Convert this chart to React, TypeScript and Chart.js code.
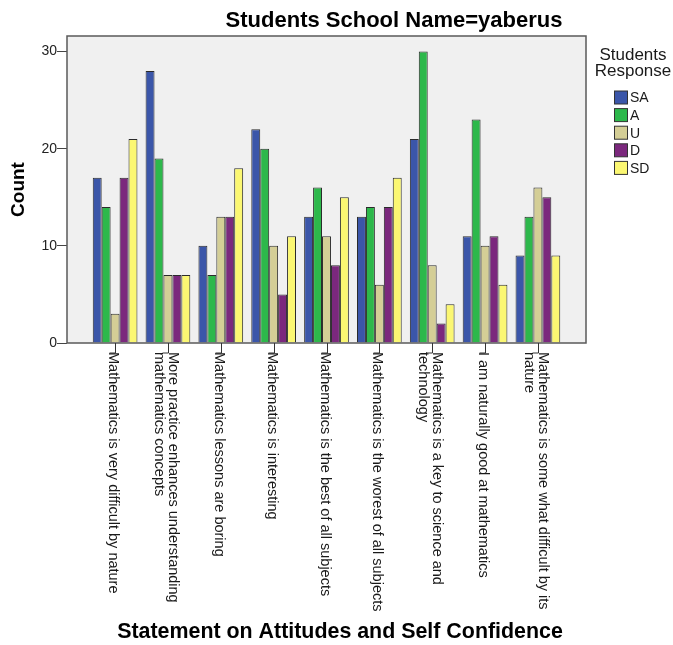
import React, { useEffect, useRef } from "react";
import { Chart, registerables } from "chart.js";

Chart.register(...registerables);

// Attitude statements (multi-line labels are split where the axis wraps them)
const statements: string[][] = [
  ["Mathematics is very difficult by nature"],
  ["More practice enhances understanding", "mathematics concepts"],
  ["Mathematics lessons are boring"],
  ["Mathematics is interesting"],
  ["Mathematics is the best of all subjects"],
  ["Mathematics is the worest of all subjects"],
  ["Mathematics is a key to science and", "technology"],
  ["I am naturally good at mathematics"],
  ["Mathematics is some what difficult by its", "nature"],
];

const responses = ["SA", "A", "U", "D", "SD"];

const saCounts = [17, 28, 10, 22, 13, 13, 21, 11, 9];
const aCounts = [14, 19, 7, 20, 16, 14, 30, 23, 13];
const uCounts = [3, 7, 13, 10, 11, 6, 8, 10, 16];
const dCounts = [17, 7, 13, 5, 8, 14, 2, 11, 15];
const sdCounts = [21, 7, 18, 11, 15, 17, 4, 6, 9];

const responseColors = ["#3b56a9", "#2db84b", "#d4ce96", "#7b287d", "#fbf772"];

const yTicks = [0, 10, 20, 30];

const chartTitle = "Students School Name=yaberus";
const xTitle = "Statement on Attitudes and Self Confidence";
const yTitle = "Count";
const legendTitle = ["Students", "Response"];

const FONT = "'Liberation Sans', Arial, sans-serif";

const decorations = {
  id: "decorations",
  beforeDraw(chart: any) {
    const { ctx, chartArea: a } = chart;
    ctx.save();
    ctx.fillStyle = "#f0f0f0";
    ctx.fillRect(a.left, a.top, a.right - a.left, a.bottom - a.top);
    ctx.restore();
  },
  afterDatasetsDraw(chart: any) {
    const { ctx, chartArea: a } = chart;
    ctx.save();
    ctx.strokeStyle = "#5a5a5a";
    ctx.lineWidth = 1.5;
    ctx.strokeRect(a.left, a.top, a.right - a.left, a.bottom - a.top);
    ctx.restore();
  },
  afterDraw(chart: any) {
    const { ctx, chartArea: a } = chart;
    const xs = chart.scales.x;
    ctx.save();

    // category ticks and rotated statement labels
    ctx.strokeStyle = "#333";
    ctx.lineWidth = 1;
    ctx.fillStyle = "#1a1a1a";
    ctx.font = `14.5px ${FONT}`;
    const lh = 14;
    statements.forEach((lines, i) => {
      const x = Math.round(xs.getPixelForValue(i)) + 0.5;
      ctx.beginPath();
      ctx.moveTo(x, a.bottom);
      ctx.lineTo(x, a.bottom + 10);
      ctx.lineTo(x - 6, a.bottom + 10);
      ctx.stroke();
      ctx.save();
      ctx.translate(x - 3, a.bottom + 9);
      ctx.rotate(Math.PI / 2);
      ctx.textAlign = "left";
      ctx.textBaseline = "middle";
      lines.forEach((line, j) => {
        const off = (j - (lines.length - 1) / 2) * lh;
        ctx.fillText(line, 0, off);
      });
      ctx.restore();
    });

    // titles
    ctx.fillStyle = "#000";
    ctx.textAlign = "center";
    ctx.textBaseline = "middle";
    ctx.font = `bold 22px ${FONT}`;
    ctx.fillText(chartTitle, 394, 21);
    ctx.font = `bold 21.4px ${FONT}`;
    ctx.fillText(xTitle, 340, 632);

    ctx.save();
    ctx.translate(19, (a.top + a.bottom) / 2);
    ctx.rotate(-Math.PI / 2);
    ctx.font = `bold 19px ${FONT}`;
    ctx.fillText(yTitle, 0, 0);
    ctx.restore();

    // legend
    ctx.fillStyle = "#1a1a1a";
    ctx.font = `17px ${FONT}`;
    ctx.fillText(legendTitle[0], 633, 55);
    ctx.fillText(legendTitle[1], 633, 71);
    ctx.textAlign = "left";
    ctx.font = `14px ${FONT}`;
    chart.data.datasets.forEach((ds: any, i: number) => {
      const cy = 97.5 + i * 17.6;
      ctx.fillStyle = ds.backgroundColor;
      ctx.fillRect(614.5, cy - 6.5, 13, 13);
      ctx.strokeStyle = "#333";
      ctx.lineWidth = 1;
      ctx.strokeRect(614.5, cy - 6.5, 13, 13);
      ctx.fillStyle = "#1a1a1a";
      ctx.fillText(ds.label, 630, cy + 1);
    });

    ctx.restore();
  },
};

export default function App() {
  const canvasRef = useRef<HTMLCanvasElement | null>(null);

  useEffect(() => {
    document.body.style.margin = "0";
    const canvas = canvasRef.current;
    if (!canvas) return;

    const seriesValues = [saCounts, aCounts, uCounts, dCounts, sdCounts];
    const chart = new Chart(canvas, {
      type: "bar",
      data: {
        datasets: responses.map((label, si) => ({
          label,
          data: seriesValues[si].map((v, i) => ({ x: i, y: v })),
          backgroundColor: responseColors[si],
          borderColor: "#2b2b2b",
          borderWidth: 1,
          categoryPercentage: 0.846,
          barPercentage: 1,
        })),
      },
      options: {
        responsive: false,
        animation: false,
        devicePixelRatio: 1,
        layout: { padding: { left: 0, top: 36, right: 87, bottom: 302 } },
        plugins: {
          legend: { display: false },
          title: { display: false },
          tooltip: { enabled: false },
        },
        scales: {
          x: {
            type: "linear",
            display: false,
            offset: false,
            min: -0.91,
            max: 8.91,
            afterBuildTicks: (scale: any) => {
              scale.ticks = statements.map((_, i) => ({ value: i }));
            },
          },
          y: {
            min: 0,
            max: 31.6,
            afterBuildTicks: (scale: any) => {
              scale.ticks = yTicks.map((v) => ({ value: v }));
            },
            afterFit: (scale: any) => {
              scale.width = 67;
            },
            ticks: {
              padding: 0,
              color: "#222",
              font: { family: FONT, size: 14 },
            },
            grid: {
              drawOnChartArea: false,
              drawTicks: true,
              tickLength: 10,
              tickColor: "#444",
            },
            border: { display: false },
          },
        },
      },
      plugins: [decorations],
    } as any);

    return () => chart.destroy();
  }, []);

  return (
    <div style={{ width: 673, height: 645, background: "#fff" }}>
      <canvas ref={canvasRef} width={673} height={645} />
    </div>
  );
}
